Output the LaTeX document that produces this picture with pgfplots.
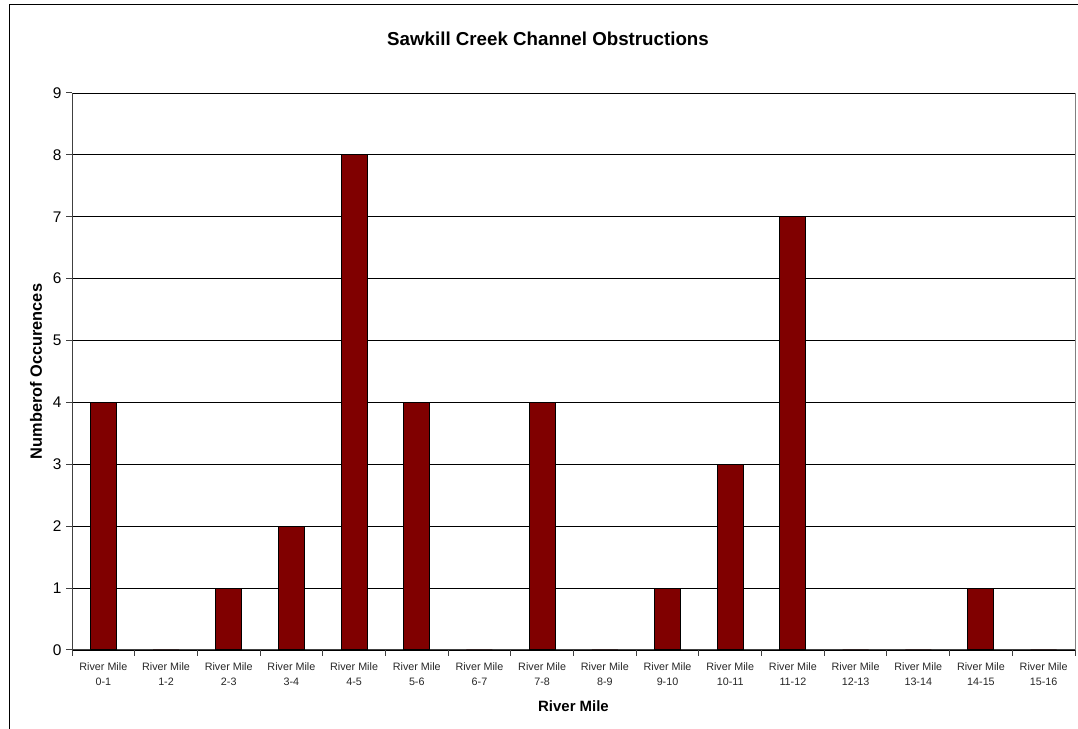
\documentclass[border=0pt]{standalone}
\usepackage{pgfplots}
\pgfplotsset{compat=1.18}
\usepackage{fontspec}
\setmainfont{Liberation Sans}

\definecolor{barred}{HTML}{800000}
\definecolor{axisgray}{HTML}{404040}

\begin{document}
\begin{tikzpicture}[x=1bp,y=1bp]
\useasboundingbox (0,0) rectangle (1078,729);
% chart frame
\draw[black, line width=1bp] (9,0) -- (9,724) -- (1078,724);
% title
\node[font=\bfseries\fontsize{18.8}{22}\selectfont] at (548,690) {Sawkill Creek Channel Obstructions};
\begin{axis}[
  at={(72bp,79bp)}, anchor=south west,
  scale only axis, width=1003bp, height=557bp,
  xmin=-0.5, xmax=15.5, ymin=0, ymax=9,
  ybar, bar width=26bp,
  axis lines*=left,
  axis line style={axisgray, line width=1bp, -},
  xtick={0,...,15},
  xticklabels={{River Mile\\0-1},{River Mile\\1-2},{River Mile\\2-3},{River Mile\\3-4},
    {River Mile\\4-5},{River Mile\\5-6},{River Mile\\6-7},{River Mile\\7-8},
    {River Mile\\8-9},{River Mile\\9-10},{River Mile\\10-11},{River Mile\\11-12},
    {River Mile\\12-13},{River Mile\\13-14},{River Mile\\14-15},{River Mile\\15-16}},
  x tick label style={align=center, font=\fontsize{10.8}{15}\selectfont, color=black!85, yshift=-3bp},
  major x tick style={draw=none},
  minor xtick={-0.5,0.5,...,15.5},
  minor x tick style={axisgray, line width=1bp},
  minor tick length=6bp,
  ytick={0,...,9},
  y tick label style={font=\fontsize{15.5}{17}\selectfont, xshift=-1bp},
  /pgf/number format/assume math mode=true,
  major y tick style={axisgray, line width=1bp},
  major tick length=6bp,
  tick align=outside,
  ymajorgrids,
  grid style={black, line width=0.8bp},
  xlabel={River Mile},
  ylabel={Numberof Occurences},
  xlabel style={font=\bfseries\fontsize{15}{18}\selectfont, yshift=-8bp},
  ylabel style={font=\bfseries\fontsize{16.4}{18}\selectfont, yshift=4bp},
  clip=false,
]
\addplot[fill=barred, draw=black, line width=1bp] coordinates {
  (0,4) (1,0) (2,1) (3,2) (4,8) (5,4) (6,0) (7,4)
  (8,0) (9,1) (10,3) (11,7) (12,0) (13,0) (14,1) (15,0)
};
\draw[gray, line width=1bp] (rel axis cs:1,0) -- (rel axis cs:1,1);
\end{axis}
\end{tikzpicture}
\end{document}
